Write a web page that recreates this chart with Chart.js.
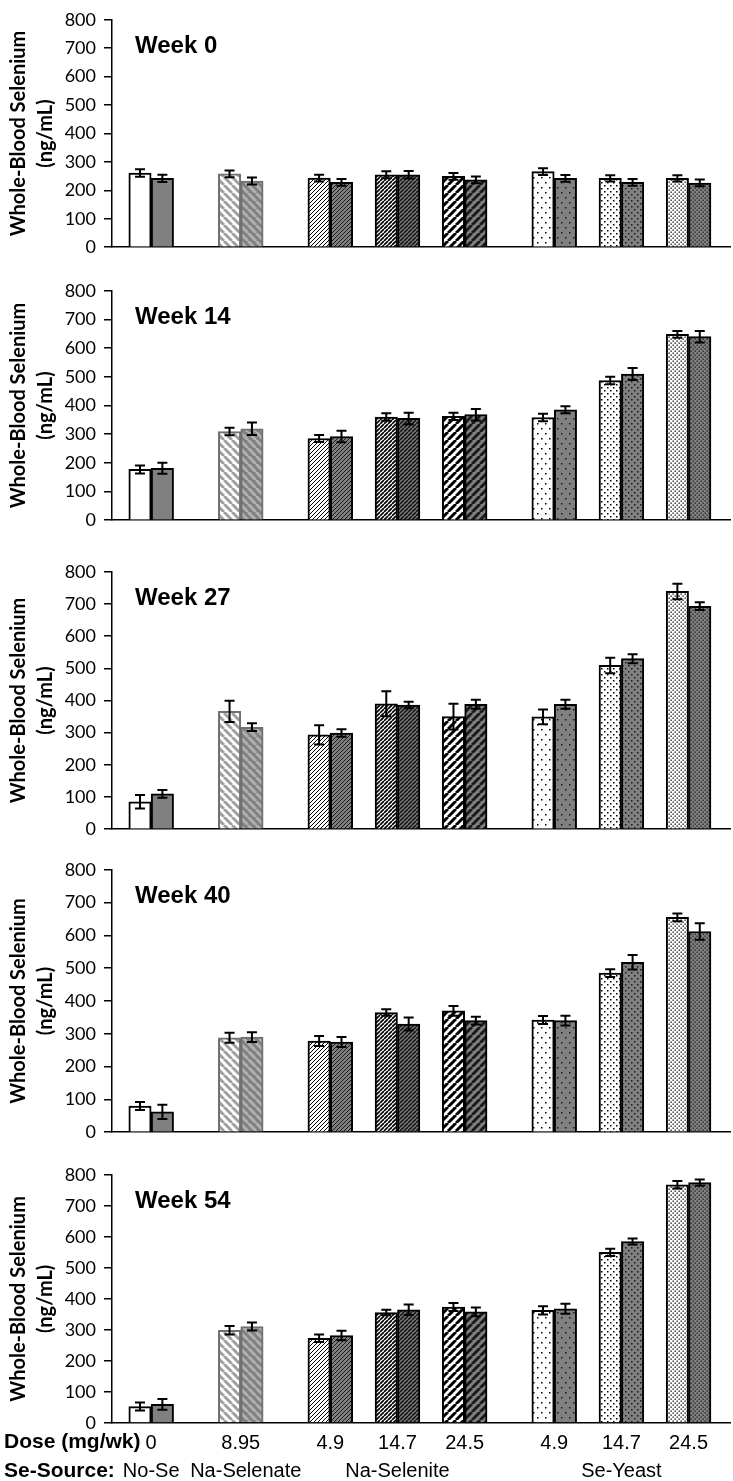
<!DOCTYPE html>
<html lang="en">
<head>
<meta charset="UTF-8">
<title>Whole-Blood Selenium by Week</title>
<style>
  body { margin: 0; background: #fff; }
  #wrap { position: relative; width: 733px; height: 1481px; overflow: hidden; }
  #wrap canvas { position: absolute; left: 0; }
  .rowLabel {
    position: absolute;
    left: 4px;
    font: bold 21px "Liberation Sans", Arial, sans-serif;
    line-height: 24px;
    color: #000;
    white-space: nowrap;
  }
</style>
</head>
<body>
<div id="wrap">
  <canvas id="p0"></canvas>
  <canvas id="p1"></canvas>
  <canvas id="p2"></canvas>
  <canvas id="p3"></canvas>
  <canvas id="p4"></canvas>
  <div class="rowLabel" style="top:1429px">Dose (mg/wk)</div>
  <div class="rowLabel" style="top:1458px">Se-Source:</div>
</div>

<script src="https://cdn.jsdelivr.net/npm/chart.js"></script>
<script>
// ---- data ----
const weeks = ['Week 0', 'Week 14', 'Week 27', 'Week 40', 'Week 54'];
const doses = ['0', '8.95', '4.9', '14.7', '24.5', '4.9', '14.7', '24.5'];
const sources = ['No-Se', '\u2002Na-Selenate', '', 'Na-Selenite', '', '', 'Se-Yeast', ''];
const yTicks = [0, 100, 200, 300, 400, 500, 600, 700, 800];

const wk0White    = [261, 258, 243, 255, 249, 266, 242, 242];
const wk0WhiteErr = [13, 12, 12, 12, 12, 12, 11, 11];
const wk0Gray     = [242, 233, 228, 255, 237, 242, 228, 226];
const wk0GrayErr  = [13, 12, 12, 13, 12, 12, 12, 12];

const wk14White    = [177, 309, 285, 360, 362, 358, 487, 648];
const wk14WhiteErr = [14, 13, 12, 13, 13, 13, 13, 12];
const wk14Gray     = [181, 319, 292, 355, 368, 385, 510, 640];
const wk14GrayErr  = [19, 22, 20, 20, 20, 12, 21, 20];

const wk27White    = [85, 366, 293, 390, 350, 349, 509, 739];
const wk27WhiteErr = [21, 33, 30, 39, 40, 23, 24, 24];
const wk27Gray     = [110, 317, 299, 386, 388, 388, 530, 693];
const wk27GrayErr  = [12, 12, 12, 10, 14, 14, 14, 12];

const wk40White    = [80, 288, 278, 365, 370, 342, 485, 655];
const wk40WhiteErr = [12, 15, 15, 10, 15, 12, 12, 12];
const wk40Gray     = [62, 290, 275, 330, 340, 340, 518, 612];
const wk40GrayErr  = [22, 15, 15, 20, 12, 15, 22, 25];

const wk54White    = [53, 299, 273, 356, 374, 363, 550, 768];
const wk54WhiteErr = [13, 14, 12, 9, 13, 13, 12, 12];
const wk54Gray     = [60, 311, 282, 365, 358, 368, 585, 775];
const wk54GrayErr  = [17, 13, 15, 17, 14, 16, 10, 10];

const whiteVals = [wk0White, wk14White, wk27White, wk40White, wk54White];
const whiteErrs = [wk0WhiteErr, wk14WhiteErr, wk27WhiteErr, wk40WhiteErr, wk54WhiteErr];
const grayVals  = [wk0Gray, wk14Gray, wk27Gray, wk40Gray, wk54Gray];
const grayErrs  = [wk0GrayErr, wk14GrayErr, wk27GrayErr, wk40GrayErr, wk54GrayErr];

// ---- layout ----
// plot area top/bottom (page px) of each panel
const panelBox = [[13, 254], [284, 527], [565, 836], [863, 1139], [1168, 1423]];
// group centres on the x scale (one unit = one bar)
const slot = [1.5, 5.5, 9.5, 12.5, 15.5, 19.5, 22.5, 25.5];
const fillKind = ['plain', 'wideDown', 'fineUp', 'darkUp', 'wideUp', 'dots5', 'dots10', 'dots20'];

const GRAY = '#808080';

function makePattern(kind, bg, ink) {
    if (kind === 'plain') return bg;
    const c = document.createElement('canvas');
    const g = c.getContext('2d');
    let w = 8, h = 8;
    if (kind === 'fineUp' || kind === 'darkUp') { w = 4; h = 4; }
    if (kind === 'dots5') { w = 8; h = 10; }
    if (kind === 'dots10') { w = 6; h = 6; }
    if (kind === 'dots20') { w = 4; h = 4; }
    c.width = w; c.height = h;
    g.fillStyle = bg;
    g.fillRect(0, 0, w, h);
    g.strokeStyle = ink;
    g.fillStyle = ink;
    if (kind === 'wideDown' || kind === 'fineUp' || kind === 'darkUp' || kind === 'wideUp') {
        g.lineWidth = kind === 'fineUp' ? 1 : kind === 'darkUp' ? 1.7 : 3;
        g.beginPath();
        for (let k = -1; k <= 1; k++) {
            const x0 = k * w;
            if (kind === 'wideDown') {
                g.moveTo(x0, 0); g.lineTo(x0 + w, h);
            } else {
                g.moveTo(x0, h); g.lineTo(x0 + w, 0);
            }
        }
        g.stroke();
    } else if (kind === 'dots5') {
        g.fillRect(1, 1, 1.5, 1.5);
        g.fillRect(5, 6, 1.5, 1.5);
    } else if (kind === 'dots10') {
        g.fillRect(1, 1, 1.5, 1.5);
        g.fillRect(4, 4, 1.5, 1.5);
    } else {
        g.fillRect(0.5, 0.5, 1.3, 1.3);
        g.fillRect(2.5, 2.5, 1.3, 1.3);
    }
    return g.createPattern(c, 'repeat');
}

const whiteFills = fillKind.map((k, i) => makePattern(k, '#ffffff', i === 1 ? '#a0a0a0' : '#000'));
const grayFills = fillKind.map((k, i) => makePattern(k, GRAY, i === 1 ? '#b0b0b0' : '#1a1a1a'));
const edge = fillKind.map((k, i) => i === 1 ? '#707070' : '#000');

const errorBars = {
    id: 'errorBars',
    afterDatasetsDraw(chart) {
        const ctx = chart.ctx;
        const y = chart.scales.y;
        ctx.save();
        ctx.strokeStyle = '#000';
        ctx.lineWidth = 2;
        chart.data.datasets.forEach((ds, i) => {
            chart.getDatasetMeta(i).data.forEach((bar, j) => {
                const v = ds.data[j].y, e = ds.err[j];
                const top = y.getPixelForValue(v + e);
                const bot = y.getPixelForValue(v - e);
                ctx.beginPath();
                ctx.moveTo(bar.x, top); ctx.lineTo(bar.x, bot);
                ctx.moveTo(bar.x - 5, top); ctx.lineTo(bar.x + 5, top);
                ctx.moveTo(bar.x - 5, bot); ctx.lineTo(bar.x + 5, bot);
                ctx.stroke();
            });
        });
        ctx.restore();
    }
};

const weekLabel = {
    id: 'weekLabel',
    afterDraw(chart, args, opts) {
        const {ctx, chartArea} = chart;
        ctx.save();
        ctx.font = 'bold 24px "Liberation Sans", Arial, sans-serif';
        ctx.fillStyle = '#000';
        ctx.textBaseline = 'alphabetic';
        ctx.fillText(opts.text, chartArea.left + 23, chartArea.top + 33);
        ctx.restore();
    }
};

function buildPanel(p) {
    const box = panelBox[p];
    const last = p === panelBox.length - 1;
    const padTop = 12;
    const padBottom = last ? 0 : 12;
    const axisH = last ? 58 : 0;
    const canvas = document.getElementById('p' + p);
    canvas.width = 733;
    canvas.height = box[1] - box[0] + padTop + padBottom + axisH;
    canvas.style.top = (box[0] - padTop) + 'px';

    new Chart(canvas, {
        type: 'bar',
        data: {
            datasets: [
                {
                    data: whiteVals[p].map((v, i) => ({x: slot[i] - 0.5, y: v})),
                    err: whiteErrs[p],
                    backgroundColor: whiteFills,
                    borderColor: edge,
                    borderWidth: 2,
                    grouped: false,
                    barPercentage: 1,
                    categoryPercentage: 1
                },
                {
                    data: grayVals[p].map((v, i) => ({x: slot[i] + 0.5, y: v})),
                    err: grayErrs[p],
                    backgroundColor: grayFills,
                    borderColor: edge,
                    borderWidth: 2,
                    grouped: false,
                    barPercentage: 1,
                    categoryPercentage: 1
                }
            ]
        },
        options: {
            responsive: false,
            animation: false,
            devicePixelRatio: 1,
            events: [],
            layout: { padding: { top: padTop, bottom: padBottom, left: 0, right: 3 } },
            plugins: {
                legend: { display: false },
                tooltip: { enabled: false },
                weekLabel: { text: weeks[p] }
            },
            scales: {
                x: {
                    type: 'linear',
                    offset: false,
                    min: -0.25,
                    max: 27.35,
                    afterBuildTicks: s => { s.ticks = slot.map(v => ({value: v})); },
                    afterFit: s => { s.height = axisH; },
                    grid: { display: false, drawTicks: false },
                    border: { display: true, color: '#000', width: 1.5 },
                    ticks: {
                        display: last,
                        autoSkip: false,
                        maxRotation: 0,
                        padding: 6,
                        color: '#000',
                        font: { family: '"Liberation Sans", Arial, sans-serif', size: 20, lineHeight: 1.42 },
                        callback: (v, i) => [doses[i], sources[i]]
                    }
                },
                y: {
                    min: 0,
                    max: 800,
                    afterBuildTicks: s => { s.ticks = yTicks.map(v => ({value: v})); },
                    afterFit: s => { s.width = 112; },
                    grid: { drawOnChartArea: false, drawTicks: true, tickLength: 8, color: '#000', lineWidth: 1.5 },
                    border: { display: true, color: '#000', width: 1.5 },
                    ticks: {
                        padding: 8,
                        color: '#000',
                        font: { family: 'Lato, "Liberation Sans", sans-serif', size: 18 }
                    },
                    title: {
                        display: true,
                        text: ['Whole-Blood Selenium', '(ng/mL)'],
                        color: '#000',
                        padding: { top: 5 },
                        font: { family: 'Lato, "Liberation Sans", sans-serif', size: 20, weight: 'bold', lineHeight: 1.35 }
                    }
                }
            }
        },
        plugins: [errorBars, weekLabel]
    });
}

for (let p = 0; p < panelBox.length; p++) buildPanel(p);
</script>
</body>
</html>
